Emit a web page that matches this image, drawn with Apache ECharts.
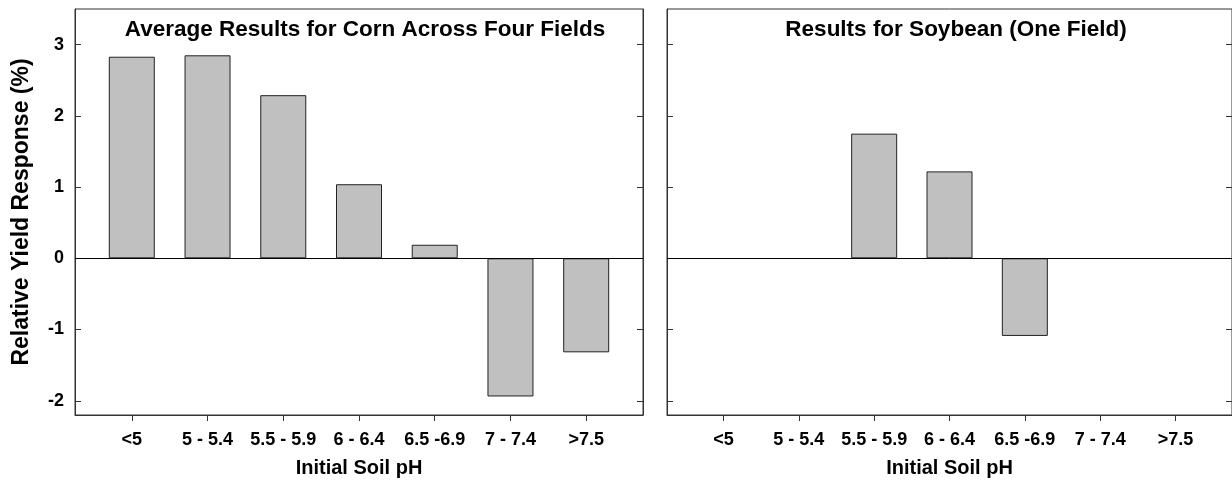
<!DOCTYPE html>
<html>
<head>
<meta charset="utf-8">
<script src="https://cdn.jsdelivr.net/npm/echarts@6/dist/echarts.min.js"></script>
<style>
  html, body { margin: 0; padding: 0; background: #fff; }
  #chart { width: 1232px; height: 483px; }
</style>
</head>
<body>
<div id="chart"></div>
<script>
// pH classes on the x axis (positions 1..7)
const categories = ['<5', '5 - 5.4', '5.5 - 5.9', '6 - 6.4', '6.5 -6.9', '7 - 7.4', '>7.5'];
// Relative yield response (%) per pH class
const cornValues = [2.83, 2.85, 2.29, 1.04, 0.19, -1.94, -1.32];
const soyValues = [null, null, 1.75, 1.22, -1.09, null, null];
const yTicks = [-2, -1, 0, 1, 2, 3];
const panelTitles = ['Average Results for Corn Across Four Fields', 'Results for Soybean (One Field)'];
const xTitle = 'Initial Soil pH';
const yTitle = 'Relative Yield Response (%)';

const FONT = '"Liberation Sans", Arial, sans-serif';
const positions = categories.map((_, i) => i + 1);
const frame = '#333';

function xAxisFor(gridIndex) {
  return {
    type: 'value', gridIndex, min: 0.25, max: 7.75,
    axisLine: { show: true, onZero: false, lineStyle: { color: frame, width: 1 } },
    axisTick: { show: true, inside: false, length: 6, customValues: positions, lineStyle: { color: frame } },
    axisLabel: {
      show: true, customValues: positions, margin: 16,
      formatter: v => categories[Math.round(v) - 1] || '',
      color: '#000', fontFamily: FONT, fontWeight: 'bold', fontSize: 18
    },
    splitLine: { show: false },
    name: xTitle, nameLocation: 'middle', nameGap: 43,
    nameTextStyle: { color: '#000', fontFamily: FONT, fontWeight: 'bold', fontSize: 20 }
  };
}

function yAxisFor(gridIndex, position, withLabels) {
  const ax = {
    type: 'value', gridIndex, position, min: -2.2, max: 3.5,
    axisLine: { show: true, onZero: false, lineStyle: { color: frame, width: 1 } },
    axisTick: { show: true, inside: true, length: 6, customValues: yTicks, lineStyle: { color: frame } },
    axisLabel: {
      show: withLabels, customValues: yTicks, margin: 11,
      color: '#000', fontFamily: FONT, fontWeight: 'bold', fontSize: 18
    },
    splitLine: { show: false }
  };
  if (withLabels) {
    ax.name = yTitle;
    ax.nameLocation = 'middle';
    ax.nameRotate = 90;
    ax.nameGap = 42;
    ax.nameTextStyle = { color: '#000', fontFamily: FONT, fontWeight: 'bold', fontSize: 23 };
  }
  return ax;
}

function barSeries(values, xi, yi) {
  return {
    type: 'bar', xAxisIndex: xi, yAxisIndex: yi,
    data: values.map((v, i) => [positions[i], v]),
    barWidth: 46,
    itemStyle: { color: '#c0c0c0', borderColor: '#222', borderWidth: 1 },
    markLine: {
      silent: true, symbol: ['none', 'none'], label: { show: false },
      lineStyle: { color: '#000', width: 1, type: 'solid' },
      data: [{ yAxis: 0 }]
    }
  };
}

const chart = echarts.init(document.getElementById('chart'), null, { renderer: 'canvas' });
chart.setOption({
  animation: false,
  backgroundColor: '#fff',
  title: [
    { text: panelTitles[0], left: 360, top: 13, textAlign: 'center',
      textStyle: { color: '#000', fontFamily: FONT, fontWeight: 'bold', fontSize: 22.5 } },
    { text: panelTitles[1], left: 951, top: 13, textAlign: 'center',
      textStyle: { color: '#000', fontFamily: FONT, fontWeight: 'bold', fontSize: 22.5 } }
  ],
  grid: [
    { left: 75, top: 9, width: 568, height: 406, show: true, borderColor: frame, borderWidth: 1, backgroundColor: 'transparent' },
    { left: 667, top: 9, width: 568, height: 406, show: true, borderColor: frame, borderWidth: 1, backgroundColor: 'transparent' }
  ],
  xAxis: [xAxisFor(0), xAxisFor(1)],
  yAxis: [
    yAxisFor(0, 'left', true), yAxisFor(0, 'right', false),
    yAxisFor(1, 'left', false), yAxisFor(1, 'right', false)
  ],
  series: [
    barSeries(cornValues, 0, 0),
    barSeries(soyValues, 1, 2)
  ]
});
</script>
</body>
</html>
